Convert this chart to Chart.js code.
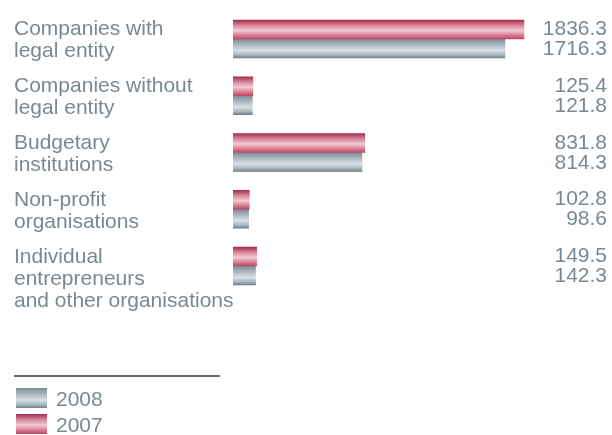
<!DOCTYPE html>
<html>
<head>
<meta charset="utf-8">
<script src="https://cdn.jsdelivr.net/npm/chart.js@4/dist/chart.umd.min.js"></script>
<style>
  html, body { margin: 0; padding: 0; background: #fff; }
  #wrap { width: 612px; height: 435px; }
</style>
</head>
<body>
<div id="wrap"><canvas id="chart" width="612" height="435"></canvas></div>
<script>
const categories = [
  ['Companies with', 'legal entity'],
  ['Companies without', 'legal entity'],
  ['Budgetary', 'institutions'],
  ['Non-profit', 'organisations'],
  ['Individual', 'entrepreneurs', 'and other organisations'],
];
const values2007 = [1836.3, 125.4, 831.8, 102.8, 149.5];
const values2008 = [1716.3, 121.8, 814.3, 98.6, 142.3];
const seriesNames = ['2007', '2008'];

const TEXT = '#7a8892';
const FONT = '21px "Liberation Sans", Arial, sans-serif';
const BAR_H = 19;

const RED_STOPS = [[0, '#a82a4c'], [0.25, '#d27d92'], [0.55, '#f2ccd4'], [0.8, '#d77e93'], [1, '#bf4663']];
const GREY_STOPS = [[0, '#7a8b96'], [0.3, '#aab7bf'], [0.6, '#d8e0e4'], [0.85, '#a5b2ba'], [1, '#6e7e89']];

function makeGradient(ctx, top, stops) {
  const g = ctx.createLinearGradient(0, top, 0, top + BAR_H);
  stops.forEach(([o, c]) => g.addColorStop(o, c));
  return g;
}

function barFill(stops, first) {
  return (c) => {
    const chart = c.chart;
    const y = chart.scales && chart.scales.y;
    if (c.type !== 'data' || !y) return stops[2][1];
    const center = y.getPixelForValue(c.dataIndex);
    if (!Number.isFinite(center)) return stops[2][1];
    const top = first ? center - BAR_H : center;
    return makeGradient(chart.ctx, top, stops);
  };
}

const textPlugin = {
  id: 'texts',
  afterDraw(chart) {
    const ctx = chart.ctx;
    const y = chart.scales.y;
    ctx.save();
    ctx.font = FONT;
    ctx.fillStyle = TEXT;
    ctx.textBaseline = 'alphabetic';
    categories.forEach((lines, i) => {
      const center = y.getPixelForValue(i);
      ctx.textAlign = 'left';
      lines.forEach((ln, k) => ctx.fillText(ln, 14, center - 3.5 + k * 22));
      ctx.textAlign = 'right';
      ctx.fillText(values2007[i].toFixed(1), 607, center - 4);
      ctx.fillText(values2008[i].toFixed(1), 607, center + 16);
    });

    // legend
    ctx.strokeStyle = '#3a3a3a';
    ctx.lineWidth = 1.5;
    ctx.beginPath();
    ctx.moveTo(14, 376);
    ctx.lineTo(220, 376);
    ctx.stroke();

    const items = [[seriesNames[1], GREY_STOPS, 388], [seriesNames[0], RED_STOPS, 414]];
    items.forEach(([name, stops, top]) => {
      const g = ctx.createLinearGradient(0, top, 0, top + 20);
      stops.forEach(([o, c]) => g.addColorStop(o, c));
      ctx.fillStyle = g;
      ctx.fillRect(16, top, 31, 20);
      ctx.fillStyle = TEXT;
      ctx.textAlign = 'left';
      ctx.fillText(name, 56, top + 18);
    });
    ctx.restore();
  },
};

new Chart(document.getElementById('chart'), {
  type: 'bar',
  data: {
    labels: categories.map((l) => l.join(' ')),
    datasets: [
      { label: seriesNames[0], data: values2007, backgroundColor: barFill(RED_STOPS, true), barThickness: BAR_H },
      { label: seriesNames[1], data: values2008, backgroundColor: barFill(GREY_STOPS, false), barThickness: BAR_H },
    ],
  },
  options: {
    indexAxis: 'y',
    responsive: false,
    animation: false,
    devicePixelRatio: 1,
    layout: { padding: { left: 233, right: 78, top: 10.6, bottom: 140.6 } },
    scales: {
      x: { display: false, min: 0, max: 1900 },
      y: { display: false },
    },
    plugins: { legend: { display: false }, tooltip: { enabled: false } },
  },
  plugins: [textPlugin],
});
</script>
</body>
</html>
